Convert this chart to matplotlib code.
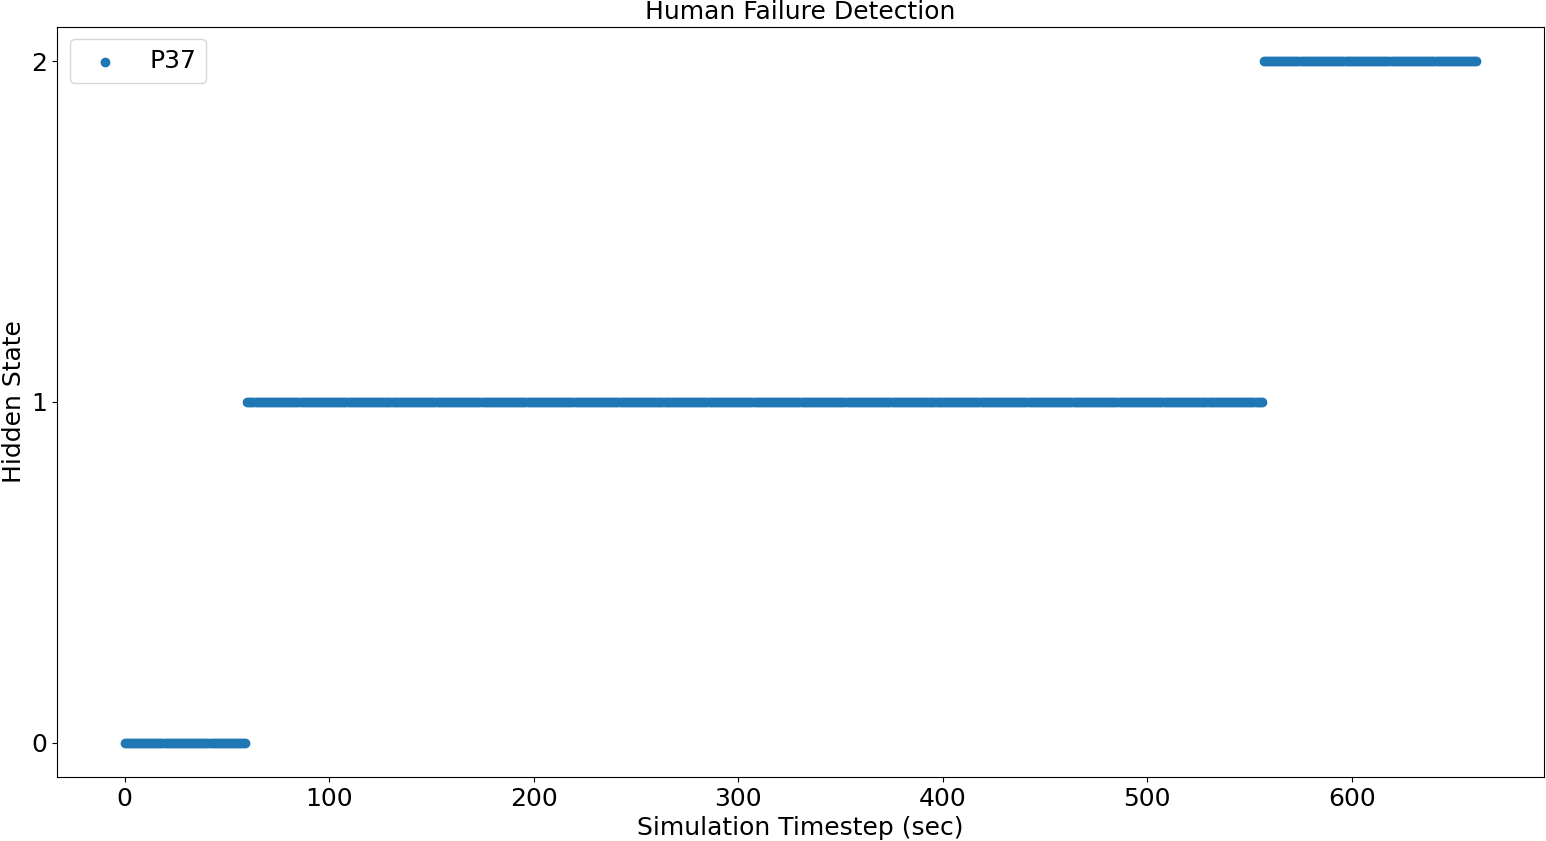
import numpy as np
import matplotlib
matplotlib.use("Agg")
import matplotlib.pyplot as plt

# hidden state segments: (state, first second, last second)
states = [0, 1, 2]
seg_start = [0, 60, 557]
seg_end = [59, 556, 661]

t = []
hs = []
for s, a, b in zip(states, seg_start, seg_end):
    for sec in range(a, b + 1):
        t.append(sec)
        hs.append(s)

plt.rcParams['font.size'] = 18
fig = plt.figure(figsize=(15.46, 8.41), dpi=100)
ax = fig.add_axes([0.0369, 0.0761, 0.9618, 0.8919])
ax.scatter(t, hs, label='P37')
ax.set_yticks([0, 1, 2])
ax.set_xlabel('Simulation Timestep (sec)', labelpad=4)
ax.set_ylabel('Hidden State', labelpad=4)
ax.set_title('Human Failure Detection', fontsize=18, pad=5.5)
ax.legend(loc='upper left')
fig.savefig('out.png', dpi=100)
